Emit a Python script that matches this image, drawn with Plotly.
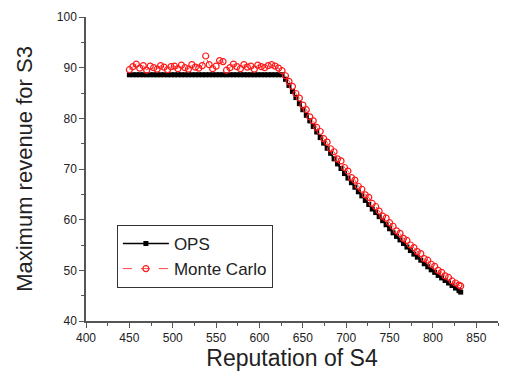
import plotly.graph_objects as go

# OPS series (x, y)
ops_x = [450, 454, 458, 462, 466, 470, 474, 478, 482, 486, 490, 494, 498, 502, 506, 510,
         514, 518, 522, 526, 530, 534, 538, 542, 546, 550, 554, 558, 562, 566, 570, 574,
         578, 582, 586, 590, 594, 598, 602, 606, 610, 614, 618, 622, 626,
         630, 634, 638, 642, 646, 650, 654, 658, 662, 666, 670, 674, 678, 682, 686, 690,
         694, 698, 702, 706, 710, 714, 718, 722, 726, 730, 734, 738, 742, 746, 750, 754,
         758, 762, 766, 770, 774, 778, 782, 786, 790, 794, 798, 802, 806, 810, 814, 818,
         822, 826, 830, 832]
ops_y = [88.6, 88.6, 88.6, 88.6, 88.6, 88.6, 88.6, 88.6, 88.6, 88.6, 88.6, 88.6, 88.6, 88.6,
         88.6, 88.6, 88.6, 88.6, 88.6, 88.6, 88.6, 88.6, 88.6, 88.6, 88.6, 88.6, 88.6, 88.6,
         88.6, 88.6, 88.6, 88.6, 88.6, 88.6, 88.6, 88.6, 88.6, 88.6, 88.6, 88.6, 88.6, 88.6,
         88.6, 88.6, 88.6,
         87.7, 86.5, 85.3, 84.1, 82.9, 81.7, 80.6, 79.5, 78.4, 77.3, 76.2, 75.1, 74.1, 73.1,
         72.0, 71.0, 70.1, 69.1, 68.2, 67.3, 66.4, 65.5, 64.7, 63.8, 63.0, 62.1, 61.4, 60.6,
         59.8, 59.0, 58.2, 57.4, 56.7, 56.0, 55.3, 54.6, 53.9, 53.2, 52.6, 52.0, 51.3, 50.7,
         50.1, 49.6, 49.0, 48.5, 48.0, 47.5, 47.0, 46.5, 46.0, 45.7]

# Monte Carlo series (x, y)
mc_x = [450, 454, 458, 462, 466, 470, 474, 478, 482, 486, 490, 494, 498, 502, 506, 510,
        514, 518, 522, 526, 530, 534, 538, 542, 546, 550, 554, 558, 562, 566, 570, 574,
        578, 582, 586, 590, 594, 598, 602, 606, 610, 614, 618, 622, 626,
        630, 634, 638, 642, 646, 650, 654, 658, 662, 666, 670, 674, 678, 682, 686, 690,
        694, 698, 702, 706, 710, 714, 718, 722, 726, 730, 734, 738, 742, 746, 750, 754,
        758, 762, 766, 770, 774, 778, 782, 786, 790, 794, 798, 802, 806, 810, 814, 818,
        822, 826, 830, 832]
mc_y = [89.6, 90.2, 90.7, 89.9, 90.4, 89.5, 90.3, 90.0, 89.7, 90.4, 90.1, 89.6, 90.2, 90.3,
        89.8, 90.5, 90.0, 89.7, 90.6, 90.1, 89.9, 90.4, 92.3, 90.6, 89.8, 90.3, 91.4, 91.2,
        89.5, 90.0, 90.7, 90.2, 89.8, 90.6, 90.1, 90.3, 89.7, 90.5, 90.2, 90.0, 90.4, 90.6,
        90.3, 89.9, 89.4,
        88.4, 87.3, 86.3, 84.9, 84.0, 82.6, 81.7, 80.3, 79.5, 78.2, 77.4, 76.0, 75.3, 74.0,
        73.4, 72.0, 71.6, 70.3, 69.6, 68.3, 67.8, 66.6, 66.0, 64.9, 64.4, 63.2, 62.6, 61.7,
        60.7, 60.3, 59.4, 58.7, 57.8, 57.3, 56.3, 55.9, 55.0, 54.5, 53.7, 53.3, 52.3, 52.0,
        51.2, 50.8, 50.0, 49.6, 48.9, 48.6, 47.9, 47.5, 47.1, 46.9]

FONT = "Arial, Liberation Sans, sans-serif"

fig = go.Figure()
fig.add_trace(go.Scatter(
    x=ops_x, y=ops_y, name="OPS", mode="lines+markers",
    line=dict(color="black", width=1.5),
    marker=dict(symbol="square", size=5, color="black", line=dict(width=0)),
))
fig.add_trace(go.Scatter(
    x=mc_x, y=mc_y, name="Monte Carlo", mode="lines+markers",
    line=dict(color="#ff1a1a", width=0.8, dash="dash"),
    marker=dict(symbol="circle-open", size=6, color="#ff1a1a", line=dict(width=1.2, color="#ff1a1a")),
))

axis_common = dict(
    showgrid=False, zeroline=False, showline=True, linecolor="#555555", linewidth=1.5,
    ticks="outside", tickcolor="#555555", tickwidth=1.2, ticklen=5,
    tickfont=dict(family=FONT, size=12, color="#222222"),
    mirror=False,
)

fig.update_xaxes(
    range=[400, 875], tickmode="array", tickvals=[400, 450, 500, 550, 600, 650, 700, 750, 800, 850],
    minor=dict(dtick=25, tick0=400, ticks="outside", ticklen=3, tickcolor="#555555", tickwidth=1.2),
    title=dict(text="Reputation of S4", font=dict(family=FONT, size=23, color="#222222"), standoff=6),
    **axis_common,
)
fig.update_yaxes(
    range=[40, 100], tickmode="array", tickvals=[40, 50, 60, 70, 80, 90, 100],
    minor=dict(dtick=5, tick0=40, ticks="outside", ticklen=3, tickcolor="#555555", tickwidth=1.2),
    title=dict(text="Maximum revenue for S3", font=dict(family=FONT, size=22, color="#222222"), standoff=18),
    **axis_common,
)

fig.update_layout(
    width=508, height=381,
    margin=dict(l=86, r=10, t=14, b=60),
    paper_bgcolor="white", plot_bgcolor="white",
    font=dict(family=FONT, color="#222222"),
    showlegend=True,
    legend=dict(
        x=0.075, y=0.316, xanchor="left", yanchor="top",
        bgcolor="white", bordercolor="#333333", borderwidth=1,
        font=dict(family=FONT, size=17, color="#222222"),
        itemwidth=46, tracegroupgap=0,
    ),
)

fig.write_html("out.html")
